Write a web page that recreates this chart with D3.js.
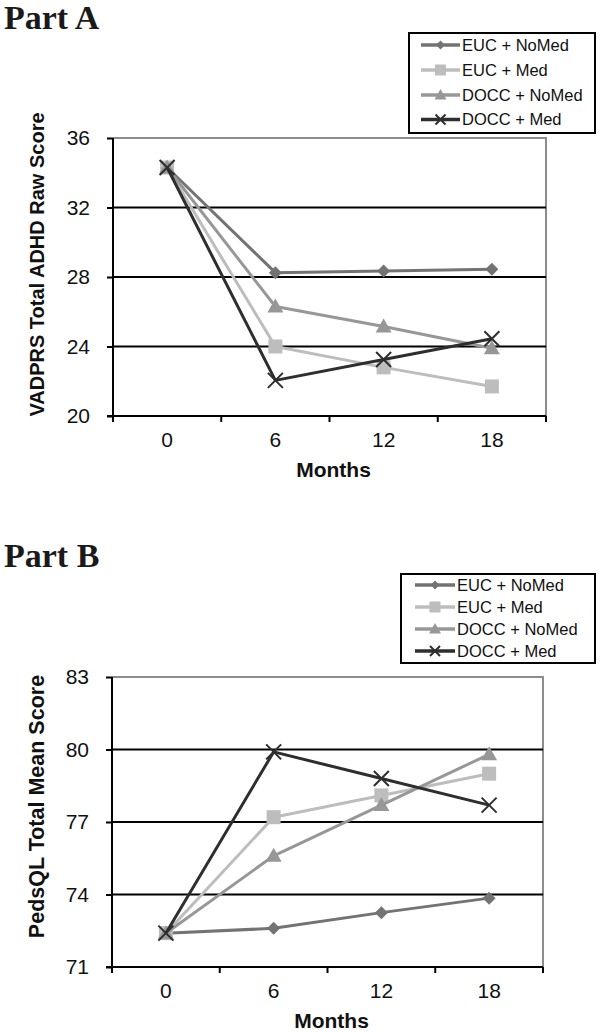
<!DOCTYPE html>
<html>
<head>
<meta charset="utf-8">
<script src="https://cdn.jsdelivr.net/npm/d3@7/dist/d3.min.js"></script>
<style>
  html, body { margin: 0; padding: 0; background: #fff; }
  svg { display: block; }
</style>
</head>
<body>
<svg id="chart" width="600" height="1034"></svg>
<script>
// ---------- DATA ----------
const months = ["0", "6", "12", "18"];
const seriesNames = ["EUC + NoMed", "EUC + Med", "DOCC + NoMed", "DOCC + Med"];

// Part A: VADPRS Total ADHD Raw Score
const vadprsEucNoMed  = [34.3, 28.25, 28.35, 28.45];
const vadprsEucMed    = [34.3, 24.0, 22.8, 21.7];
const vadprsDoccNoMed = [34.3, 26.3, 25.15, 23.9];
const vadprsDoccMed   = [34.3, 22.05, 23.25, 24.45];
const vadprsTicks = [20, 24, 28, 32, 36];

// Part B: PedsQL Total Mean Score
const pedsEucNoMed  = [72.4, 72.6, 73.25, 73.85];
const pedsEucMed    = [72.4, 77.2, 78.1, 79.0];
const pedsDoccNoMed = [72.4, 75.6, 77.7, 79.8];
const pedsDoccMed   = [72.4, 79.9, 78.8, 77.7];
const pedsTicks = [71, 74, 77, 80, 83];

// ---------- STYLE ----------
const colors = ["#737373", "#bdbdbd", "#979797", "#2e2e2e"];
const shapes = ["diamond", "square", "triangle", "x"];
const markerSize = { diamond: 6.5, square: 7, triangle: 8, x: 7.5 };
const legendMarkerSize = { diamond: 4.5, square: 5.5, triangle: 6, x: 5 };
const sansFont = "Arial, 'Liberation Sans', Helvetica, sans-serif";

const svg = d3.select("#chart");

function drawMarker(g, shape, cx, cy, s, color) {
  if (shape === "diamond") {
    g.append("path").attr("d", `M${cx},${cy - s}L${cx + s},${cy}L${cx},${cy + s}L${cx - s},${cy}Z`)
      .attr("fill", color);
  } else if (shape === "square") {
    g.append("rect").attr("x", cx - s).attr("y", cy - s).attr("width", 2 * s).attr("height", 2 * s)
      .attr("fill", color);
  } else if (shape === "triangle") {
    g.append("path").attr("d", `M${cx},${cy - s}L${cx + s},${cy + s * 0.75}L${cx - s},${cy + s * 0.75}Z`)
      .attr("fill", color);
  } else {
    g.append("path").attr("d", `M${cx - s},${cy - s}L${cx + s},${cy + s}M${cx - s},${cy + s}L${cx + s},${cy - s}`)
      .attr("stroke", color).attr("stroke-width", 2).attr("fill", "none");
  }
}

function drawPanel(cfg) {
  const g = svg.append("g");
  const x = d3.scaleBand().domain(months).range([cfg.left, cfg.right]).paddingInner(0).paddingOuter(0);
  const y = d3.scaleLinear().domain([cfg.ticks[0], cfg.ticks[cfg.ticks.length - 1]]).range([cfg.bottom, cfg.top]);

  // title
  g.append("text").attr("x", 4).attr("y", cfg.titleY)
    .attr("font-family", "'Liberation Serif', 'DejaVu Serif', serif")
    .attr("font-weight", "bold").attr("font-size", 34).attr("fill", "#1a1a1a")
    .text(cfg.title);

  // top & right border (grey)
  g.append("path")
    .attr("d", `M${cfg.left},${y(cfg.ticks[cfg.ticks.length - 1])}H${cfg.right}V${cfg.bottom}`)
    .attr("stroke", "#8c8c8c").attr("stroke-width", 2).attr("fill", "none");

  // gridlines
  g.selectAll(".grid").data(cfg.ticks.slice(1, -1)).enter().append("line")
    .attr("x1", cfg.left).attr("x2", cfg.right)
    .attr("y1", d => y(d)).attr("y2", d => y(d))
    .attr("stroke", "#000").attr("stroke-width", 2);

  // y axis
  const yAxis = d3.axisLeft(y).tickValues(cfg.ticks).tickSize(6).tickSizeOuter(0).tickPadding(17)
    .tickFormat(d3.format("d"));
  const ya = g.append("g").attr("transform", `translate(${cfg.left},0)`).call(yAxis);
  ya.select(".domain").remove();
  ya.selectAll(".tick line").attr("stroke", "#000").attr("stroke-width", 2);
  ya.selectAll(".tick text").attr("font-family", sansFont).attr("font-size", 21).attr("fill", "#111");
  g.append("line").attr("x1", cfg.left).attr("x2", cfg.left)
    .attr("y1", y(cfg.ticks[cfg.ticks.length - 1])).attr("y2", cfg.bottom + 6)
    .attr("stroke", "#000").attr("stroke-width", 2);

  // x axis
  g.append("line").attr("x1", cfg.left - 6).attr("x2", cfg.right)
    .attr("y1", cfg.bottom).attr("y2", cfg.bottom)
    .attr("stroke", "#000").attr("stroke-width", 2);
  const bounds = months.map(m => x(m)).concat([x(months[months.length - 1]) + x.bandwidth()]);
  g.selectAll(".xb").data(bounds).enter().append("line")
    .attr("x1", d => d).attr("x2", d => d)
    .attr("y1", cfg.bottom).attr("y2", cfg.bottom + 6)
    .attr("stroke", "#000").attr("stroke-width", 2);
  const xAxis = d3.axisBottom(x).tickSize(0).tickPadding(16);
  const xa = g.append("g").attr("transform", `translate(0,${cfg.bottom})`).call(xAxis);
  xa.select(".domain").remove();
  xa.selectAll(".tick text").attr("font-family", sansFont).attr("font-size", 21).attr("fill", "#111");

  // axis titles
  g.append("text").attr("x", (cfg.left + cfg.right) / 2 + 4).attr("y", cfg.bottom + 61)
    .attr("text-anchor", "middle").attr("font-family", sansFont).attr("font-weight", "bold")
    .attr("font-size", 21).attr("fill", "#111").text("Months");
  g.append("text")
    .attr("transform", `translate(44,${cfg.yLabelCenter}) rotate(-90)`)
    .attr("text-anchor", "middle").attr("font-family", sansFont).attr("font-weight", "bold")
    .attr("font-size", cfg.yLabelSize).attr("fill", "#111").text(cfg.yLabel);

  // series
  const cx = m => x(m) + x.bandwidth() / 2;
  const line = d3.line().x((d, i) => cx(months[i])).y(d => y(d));
  cfg.series.forEach((vals, si) => {
    g.append("path").datum(vals).attr("d", line)
      .attr("fill", "none").attr("stroke", colors[si]).attr("stroke-width", 3)
      .attr("stroke-linejoin", "round");
    vals.forEach((v, i) => drawMarker(g, shapes[si], cx(months[i]), y(v), markerSize[shapes[si]], colors[si]));
  });

  // legend
  const L = cfg.legend;
  g.append("rect").attr("x", L.x).attr("y", L.y).attr("width", L.w).attr("height", L.h)
    .attr("fill", "#fff").attr("stroke", "#000").attr("stroke-width", 2);
  seriesNames.forEach((name, si) => {
    const ry = L.rows[si];
    g.append("line").attr("x1", L.lineX1).attr("x2", L.lineX2).attr("y1", ry).attr("y2", ry)
      .attr("stroke", colors[si]).attr("stroke-width", 3.5);
    drawMarker(g, shapes[si], (L.lineX1 + L.lineX2) / 2, ry, legendMarkerSize[shapes[si]], colors[si]);
    g.append("text").attr("x", L.lineX2 + 2).attr("y", ry).attr("dy", "0.36em")
      .attr("font-family", sansFont).attr("font-size", 16.5).attr("fill", "#111").text(name);
  });
}

drawPanel({
  title: "Part A", titleY: 28.5,
  left: 113, right: 546, top: 138, bottom: 416,
  ticks: vadprsTicks,
  yLabel: "VADPRS Total ADHD Raw Score", yLabelCenter: 264.5, yLabelSize: 20,
  series: [vadprsEucNoMed, vadprsEucMed, vadprsDoccNoMed, vadprsDoccMed],
  legend: { x: 409, y: 33, w: 186, h: 100, rows: [45, 70, 95, 119.5], lineX1: 421, lineX2: 460 }
});

drawPanel({
  title: "Part B", titleY: 566.5,
  left: 112, right: 543, top: 677, bottom: 967,
  ticks: pedsTicks,
  yLabel: "PedsQL Total Mean Score", yLabelCenter: 806.5, yLabelSize: 21.5,
  series: [pedsEucNoMed, pedsEucMed, pedsDoccNoMed, pedsDoccMed],
  legend: { x: 401, y: 574, w: 194, h: 89, rows: [585, 607, 629, 651], lineX1: 415, lineX2: 455 }
});
</script>
</body>
</html>
